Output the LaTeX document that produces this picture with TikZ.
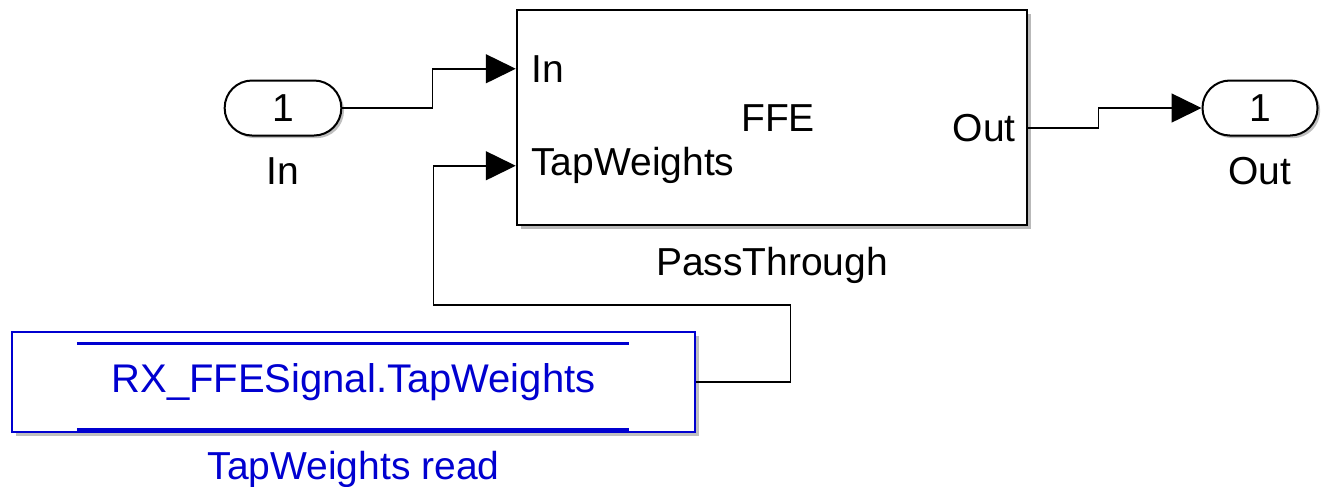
\documentclass[tikz,border=0pt]{standalone}
\usepackage{fontspec}
\setmainfont{Liberation Sans}
\definecolor{dsblau}{HTML}{0000D0}
\usetikzlibrary{arrows.meta, positioning, shadows, calc}

\begin{document}
\begin{tikzpicture}[
    x=0.3pt, y=-0.3pt,
    font=\fontsize{11.7}{14}\selectfont,
    blk/.style={rectangle, draw=black, line width=0.75pt, fill=white,
                minimum width=153pt, minimum height=64.5pt,
                drop shadow={shadow xshift=1.1pt, shadow yshift=-1.1pt, opacity=0.55}},
    port/.style={rectangle, rounded corners=8.2pt, draw=black, line width=0.6pt,
                 fill=white, minimum width=35pt, minimum height=16.5pt, inner sep=0pt,
                 drop shadow={shadow xshift=0.8pt, shadow yshift=-0.8pt, opacity=0.5}},
    dsbox/.style={rectangle, draw=dsblau, line width=0.65pt, fill=white, text=dsblau,
                  minimum width=205pt, minimum height=30pt,
                  drop shadow={shadow xshift=1.1pt, shadow yshift=-1.1pt, opacity=0.5}},
    dsline/.style={dsblau, line width=0.9pt},
    lbl/.style={inner sep=0pt},
    sig/.style={-{Triangle[length=9pt, width=8.7pt]}, line width=0.45pt}
  ]
  \useasboundingbox (0,0) rectangle (1324,486);

  \node[blk] (ffe) at (772,117.5) {};
  \node[lbl] at (778,118) {FFE};
  \node[lbl, below=6pt of ffe] (ffename) {PassThrough};
  \coordinate (pin-in) at ([shift={(0,60)}]ffe.north west);
  \coordinate (pin-tw) at ([shift={(0,157)}]ffe.north west);
  \coordinate (pin-out) at ([shift={(0,119)}]ffe.north east);
  \node[lbl, anchor=west] at ([xshift=4.5pt]pin-in) {In};
  \node[lbl, anchor=west] at ([xshift=4.5pt]pin-tw) {TapWeights};
  \node[lbl, anchor=east] at ([xshift=-3.6pt]pin-out) {Out};

  \node[port] (inport) at (283,108) {1};
  \node[lbl, below=6pt of inport] (inname) {In};
  \node[port, minimum width=34.5pt] (outport) at (1260,108) {1};
  \node[lbl, below=6pt of outport] (outname) {Out};

  \node[dsbox, font=\fontsize{12}{14}\selectfont] (dsr) at (353.5,382) {RX\_FFESignal.TapWeights};
  \node[lbl, text=dsblau, below=5.2pt of dsr] (dsrname) {TapWeights read};
  \draw[dsline] ([shift={(66,13)}]dsr.north west) -- ([shift={(-67,13)}]dsr.north east);
  \draw[dsline] ([shift={(66,-4)}]dsr.south west) -- ([shift={(-67,-4)}]dsr.south east);

  \draw[sig] (inport.east) -- ++(90,0) |- (pin-in);
  \draw[sig] (pin-out) -- ++(70,0) |- (outport.west);
  \draw[sig] (dsr.east) -- ++(94,0) -- ++(0,-77) -- ++(-357,0) |- (pin-tw);
\end{tikzpicture}
\end{document}
